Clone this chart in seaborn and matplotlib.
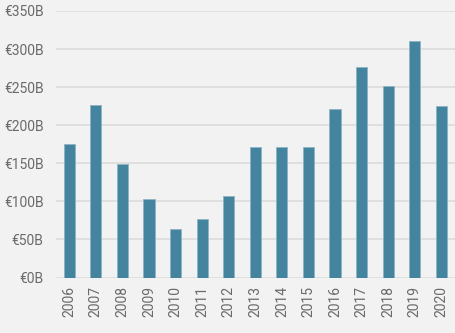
import matplotlib
matplotlib.use("Agg")
import matplotlib.pyplot as plt
import seaborn as sns
import pandas as pd

years = ["2006", "2007", "2008", "2009", "2010", "2011", "2012", "2013",
         "2014", "2015", "2016", "2017", "2018", "2019", "2020"]
values = [175, 226, 149, 103, 64, 77, 107, 172, 172, 171, 221, 276, 251, 310, 225]
y_ticks = [0, 50, 100, 150, 200, 250, 300, 350]
y_labels = [f"€{v}B" for v in y_ticks]

df = pd.DataFrame({"year": years, "value": values})

sns.set_theme(style="whitegrid")
plt.rcParams["font.family"] = ["Roboto", "DejaVu Sans"]

bg = "#f2f2f2"
fig = plt.figure(figsize=(4.56, 3.33), dpi=100, facecolor=bg)
ax = fig.add_axes([56 / 456, 1 - 277.5 / 333, 400 / 456, (277.5 - 11) / 333])
ax.set_facecolor(bg)

sns.barplot(data=df, x="year", y="value", color="#44849f", saturation=1,
            width=0.42, edgecolor="#8fb4c6", linewidth=0.6, ax=ax)

ax.set_xlim(-0.5, 14.55)
ax.set_ylim(0, 350)
ax.set_yticks(y_ticks)
ax.set_yticklabels(y_labels)
ax.set_xlabel("")
ax.set_ylabel("")
ax.tick_params(axis="x", rotation=90, labelsize=10, colors="#6a6a6a", pad=6, length=0)
ax.tick_params(axis="y", labelsize=10, colors="#6a6a6a", pad=9, length=0)
ax.grid(axis="y", color="#dcdcdc", linewidth=1.2)
ax.grid(axis="x", visible=False)
ax.set_axisbelow(True)
for s in ax.spines.values():
    s.set_visible(False)

fig.savefig("out.png", dpi=100, facecolor=bg)
